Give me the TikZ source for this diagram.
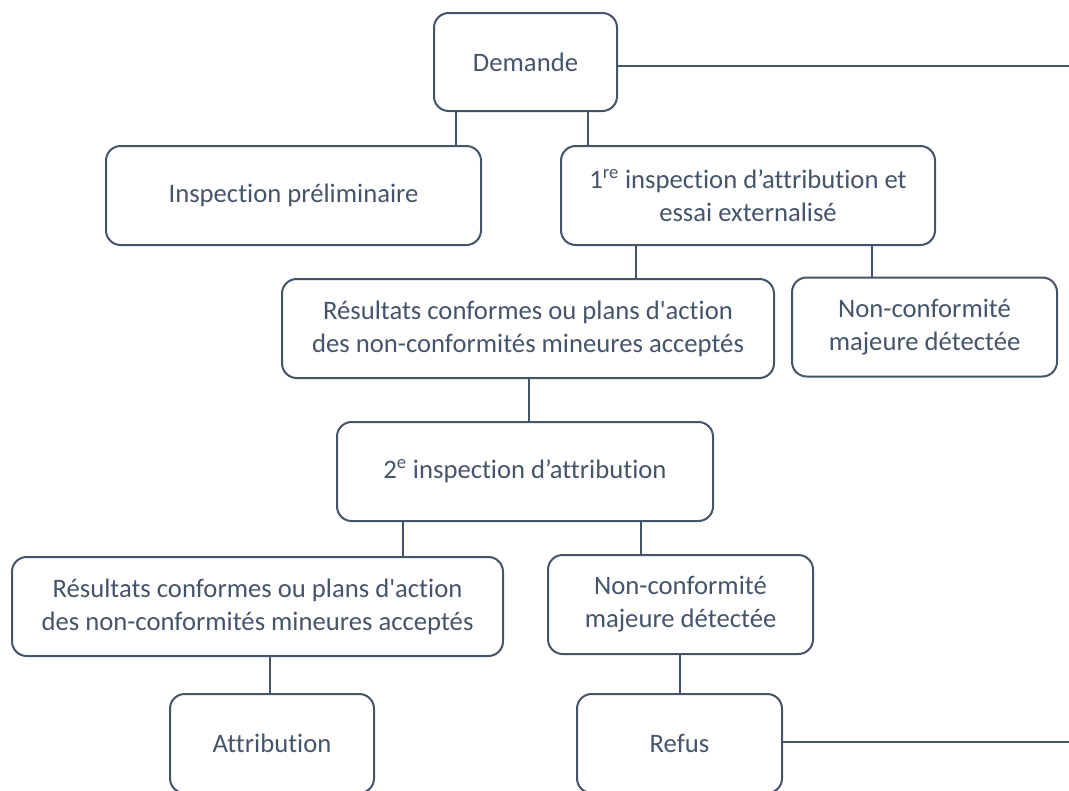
\documentclass[tikz,border=0pt]{standalone}
\usepackage{fontspec}
\newfontfamily\boxfont[Ligatures=NoCommon]{Carlito}
\usetikzlibrary{positioning}
\definecolor{boxslate}{RGB}{68,84,106}

\begin{document}
\begin{tikzpicture}[
    x=0.75pt, y=-0.75pt,
    box/.style={rectangle, draw=boxslate, line width=1.5pt, rounded corners=11pt,
                text=boxslate, align=center, inner sep=0pt,
                font=\boxfont\fontsize{20}{24.75}\selectfont},
    link/.style={draw=boxslate, line width=1.5pt}
]
\clip (0,0) rectangle (1069,790);

% Request and first inspections
\node[box, minimum width=137.25pt, minimum height=73.5pt] (demande) at (525.5, 62) {Demande};
\node[box, minimum width=281.25pt, minimum height=74.25pt] (prelim) at (293.5, 195.5) {Inspection préliminaire};
\node[box, minimum width=280.5pt, minimum height=74.25pt] (first) at (748, 195.5) {1\textsuperscript{re} inspection d’attribution et\\essai externalisé};

% Results of the first inspection
\node[box, minimum width=369pt, minimum height=74.25pt] (res1) at (528, 328.5) {Résultats conformes ou plans d'action\\des non-conformités mineures acceptés};
\node[box, minimum width=198.75pt, minimum height=74.25pt] (nc1) at (924.5, 327) {Non-conformité\\majeure détectée};

% Second inspection
\node[box, minimum width=282pt, minimum height=74.25pt] (second) at (525, 471.5) {2\textsuperscript{e} inspection d’attribution};
\node[box, minimum width=368.25pt, minimum height=74.25pt] (res2) at (257.5, 606.5) {Résultats conformes ou plans d'action\\des non-conformités mineures acceptés};
\node[box, minimum width=198.75pt, minimum height=74.25pt] (nc2) at (680.5, 604.5) {Non-conformité\\majeure détectée};

% Decision
\node[box, minimum width=153pt, minimum height=74.25pt] (attr) at (272, 743.5) {Attribution};
\node[box, minimum width=153.75pt, minimum height=74.25pt] (refus) at (679.5, 743.5) {Refus};

% Free ends at the right border
\coordinate (rimtop) at (1069, 66);
\coordinate (rimbottom) at (1069, 742);

\draw[link] (456,0 |- demande.south) -- (456,0 |- prelim.north);
\draw[link] (588,0 |- demande.south) -- (588,0 |- first.north);
\draw[link] (rimtop -| demande.east) -- (rimtop);
\draw[link] (636,0 |- first.south) -- (636,0 |- res1.north);
\draw[link] (872,0 |- first.south) -- (872,0 |- nc1.north);
\draw[link] (529,0 |- res1.south) -- (529,0 |- second.north);
\draw[link] (403,0 |- second.south) -- (403,0 |- res2.north);
\draw[link] (641,0 |- second.south) -- (641,0 |- nc2.north);
\draw[link] (270,0 |- res2.south) -- (270,0 |- attr.north);
\draw[link] (680,0 |- nc2.south) -- (680,0 |- refus.north);
\draw[link] (rimbottom -| refus.east) -- (rimbottom);

\end{tikzpicture}
\end{document}
